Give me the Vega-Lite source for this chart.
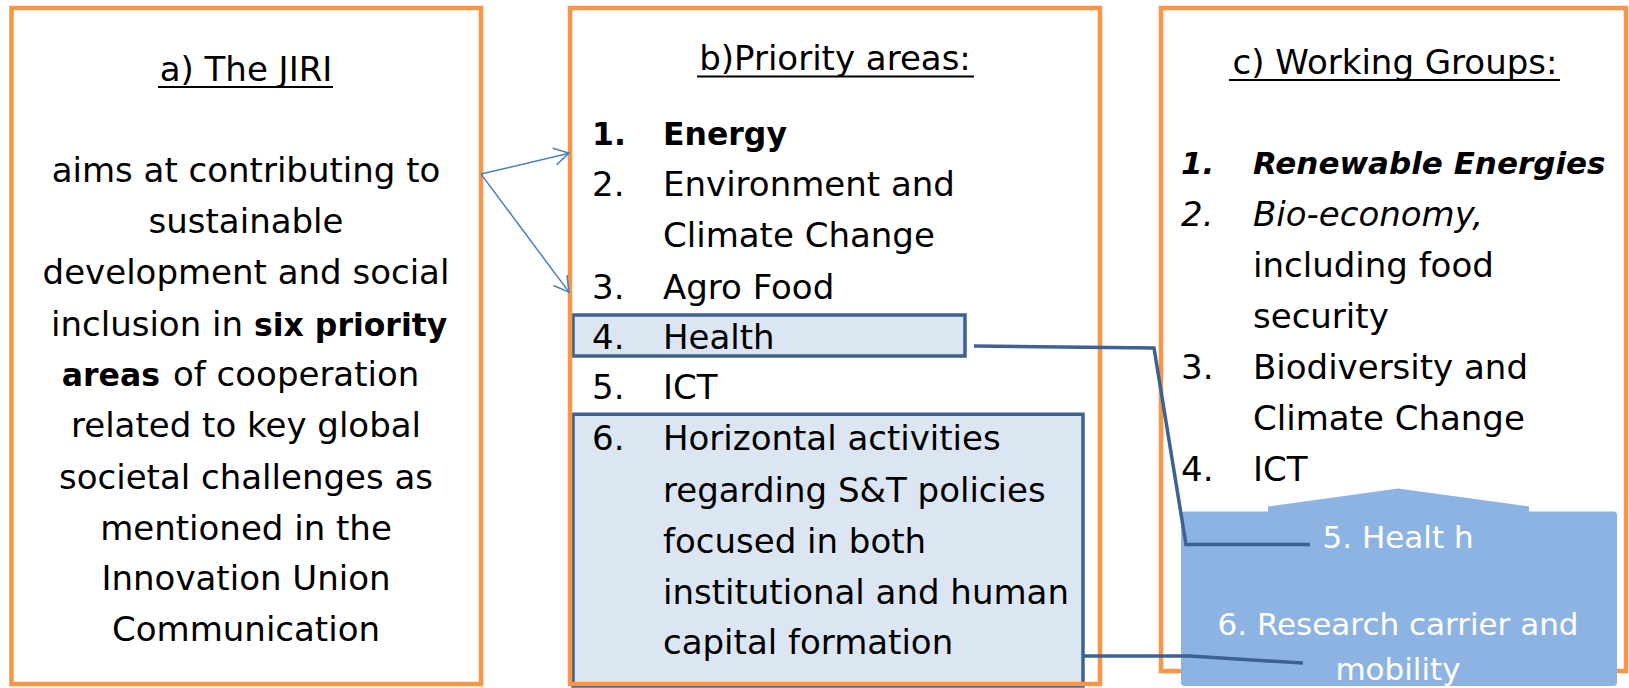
{
  "$schema": "https://vega.github.io/schema/vega-lite/v6.json",
  "width": 1629,
  "height": 688,
  "autosize": {"type": "fit", "contains": "padding"},
  "padding": 0,
  "background": "white",
  "config": {"view": {"stroke": null}},
  "datasets": {
    "highlights": [
      {"id": "health", "x": 573, "x2": 965, "y": 316, "y2": 357},
      {"id": "horizontal", "x": 573, "x2": 1083, "y": 415.5, "y2": 688}
    ],
    "frames": [
      {"id": "a", "x": 11.5, "x2": 481, "y": 8, "y2": 686},
      {"id": "b", "x": 570, "x2": 1100, "y": 8, "y2": 686},
      {"id": "c", "x": 1161, "x2": 1626, "y": 8, "y2": 673}
    ],
    "wgbox": [
      {"id": "body", "x": 1181, "x2": 1617, "y": 513, "y2": 688}
    ],
    "wgtop": [
      {"x": 1268, "y": 508, "y2": 514},
      {"x": 1398, "y": 490, "y2": 514},
      {"x": 1529, "y": 508, "y2": 514}
    ],
    "underlines": [
      {"id": "a", "x": 158, "x2": 333, "y": 87.3},
      {"id": "b", "x": 697, "x2": 974, "y": 76.8},
      {"id": "c", "x": 1229, "x2": 1560, "y": 80.3}
    ],
    "texts": [
      {"s": "c", "x": 246, "y": 81.7, "t": "a) The JIRI"},
      {"s": "c", "x": 246, "y": 183, "t": "aims at contributing to"},
      {"s": "c", "x": 246, "y": 233.5, "t": "sustainable"},
      {"s": "c", "x": 246, "y": 285, "t": "development and social"},
      {"s": "r", "x": 243, "y": 336.5, "t": "inclusion in"},
      {"s": "lb", "x": 254, "y": 336.5, "t": "six priority"},
      {"s": "rb", "x": 160, "y": 387, "t": "areas"},
      {"s": "l", "x": 173, "y": 387, "t": "of cooperation"},
      {"s": "c", "x": 246, "y": 438.5, "t": "related to key global"},
      {"s": "c", "x": 246, "y": 490, "t": "societal challenges as"},
      {"s": "c", "x": 246, "y": 541.5, "t": "mentioned in the"},
      {"s": "c", "x": 246, "y": 592, "t": "Innovation Union"},
      {"s": "c", "x": 246, "y": 643, "t": "Communication"},
      {"s": "c", "x": 835, "y": 70.5, "t": "b)Priority areas:"},
      {"s": "lb", "x": 592, "y": 145, "t": "1."},
      {"s": "lb", "x": 663, "y": 145, "t": "Energy"},
      {"s": "l", "x": 592, "y": 196.7, "t": "2."},
      {"s": "l", "x": 663, "y": 196.7, "t": "Environment and"},
      {"s": "l", "x": 663, "y": 248, "t": "Climate Change"},
      {"s": "l", "x": 592, "y": 299.5, "t": "3."},
      {"s": "l", "x": 663, "y": 299.5, "t": "Agro Food"},
      {"s": "l", "x": 592, "y": 350, "t": "4."},
      {"s": "l", "x": 663, "y": 350, "t": "Health"},
      {"s": "l", "x": 592, "y": 400.5, "t": "5."},
      {"s": "l", "x": 663, "y": 400.5, "t": "ICT"},
      {"s": "l", "x": 592, "y": 451.7, "t": "6."},
      {"s": "l", "x": 663, "y": 451.7, "t": "Horizontal activities"},
      {"s": "l", "x": 663, "y": 503, "t": "regarding S&T policies"},
      {"s": "l", "x": 663, "y": 554.7, "t": "focused in both"},
      {"s": "l", "x": 663, "y": 606, "t": "institutional and human"},
      {"s": "l", "x": 663, "y": 656, "t": "capital formation"},
      {"s": "c", "x": 1395, "y": 74.5, "t": "c) Working Groups:"},
      {"s": "lbi", "x": 1181, "y": 175, "t": "1."},
      {"s": "lbi", "x": 1253, "y": 175, "t": "Renewable Energies"},
      {"s": "li", "x": 1181, "y": 226.5, "t": "2."},
      {"s": "li", "x": 1253, "y": 226.5, "t": "Bio-economy,"},
      {"s": "l", "x": 1253, "y": 278, "t": "including food"},
      {"s": "l", "x": 1253, "y": 329, "t": "security"},
      {"s": "l", "x": 1181, "y": 380, "t": "3."},
      {"s": "l", "x": 1253, "y": 380, "t": "Biodiversity and"},
      {"s": "l", "x": 1253, "y": 431, "t": "Climate Change"},
      {"s": "l", "x": 1181, "y": 482.5, "t": "4."},
      {"s": "l", "x": 1253, "y": 482.5, "t": "ICT"},
      {"s": "w", "x": 1398, "y": 550, "t": "5. Healt h"},
      {"s": "w", "x": 1398, "y": 637, "t": "6. Research carrier and"},
      {"s": "w", "x": 1398, "y": 682, "t": "mobility"}
    ],
    "connectors": [
      {"id": "c1", "o": 1, "x": 974, "y": 347},
      {"id": "c1", "o": 2, "x": 1154, "y": 349},
      {"id": "c1", "o": 3, "x": 1186, "y": 546},
      {"id": "c1", "o": 4, "x": 1310, "y": 546},
      {"id": "c2", "o": 1, "x": 1083, "y": 658},
      {"id": "c2", "o": 2, "x": 1190, "y": 658},
      {"id": "c2", "o": 3, "x": 1303, "y": 665}
    ],
    "arrows": [
      {"id": "a1", "o": 1, "x": 481, "y": 174.6},
      {"id": "a1", "o": 2, "x": 569, "y": 153.6},
      {"id": "h1", "o": 1, "x": 552.7, "y": 148.7},
      {"id": "h1", "o": 2, "x": 569, "y": 153.6},
      {"id": "h1", "o": 3, "x": 556.6, "y": 165.3},
      {"id": "a2", "o": 1, "x": 481, "y": 174.6},
      {"id": "a2", "o": 2, "x": 569, "y": 293},
      {"id": "h2", "o": 1, "x": 567, "y": 276},
      {"id": "h2", "o": 2, "x": 569, "y": 293},
      {"id": "h2", "o": 3, "x": 553.4, "y": 286.3}
    ]
  },
  "layer": [
    {
      "data": {"name": "highlights"},
      "mark": {"type": "rect", "fill": "#DCE6F2", "stroke": "#3D6190", "strokeWidth": 3.5},
      "encoding": {
        "x": {"field": "x", "type": "quantitative", "scale": {"domain": [0, 1629], "nice": false, "zero": false}, "axis": null},
        "x2": {"field": "x2"},
        "y": {"field": "y", "type": "quantitative", "scale": {"domain": [0, 688], "nice": false, "zero": false, "reverse": true}, "axis": null},
        "y2": {"field": "y2"}
      }
    },
    {
      "data": {"name": "frames"},
      "mark": {"type": "rect", "fill": null, "fillOpacity": 0, "stroke": "#F79646", "strokeWidth": 4.5},
      "encoding": {
        "x": {"field": "x", "type": "quantitative"},
        "x2": {"field": "x2"},
        "y": {"field": "y", "type": "quantitative"},
        "y2": {"field": "y2"}
      }
    },
    {
      "data": {"name": "wgbox"},
      "mark": {"type": "rect", "fill": "#8DB3E2", "cornerRadius": 3},
      "encoding": {
        "x": {"field": "x", "type": "quantitative"},
        "x2": {"field": "x2"},
        "y": {"field": "y", "type": "quantitative"},
        "y2": {"field": "y2"}
      }
    },
    {
      "data": {"name": "wgtop"},
      "mark": {"type": "area", "fill": "#8DB3E2", "orient": "vertical"},
      "encoding": {
        "x": {"field": "x", "type": "quantitative"},
        "y": {"field": "y", "type": "quantitative"},
        "y2": {"field": "y2"}
      }
    },
    {
      "data": {"name": "underlines"},
      "mark": {"type": "rule", "stroke": "black", "strokeWidth": 2},
      "encoding": {
        "x": {"field": "x", "type": "quantitative"},
        "x2": {"field": "x2"},
        "y": {"field": "y", "type": "quantitative"}
      }
    },
    {
      "data": {"name": "texts"},
      "transform": [{"filter": "datum.s == 'c'"}],
      "mark": {"type": "text", "align": "center", "baseline": "alphabetic", "font": "DejaVu Sans", "fontSize": 34, "fill": "black"},
      "encoding": {"x": {"field": "x", "type": "quantitative"}, "y": {"field": "y", "type": "quantitative"}, "text": {"field": "t"}}
    },
    {
      "data": {"name": "texts"},
      "transform": [{"filter": "datum.s == 'l'"}],
      "mark": {"type": "text", "align": "left", "baseline": "alphabetic", "font": "DejaVu Sans", "fontSize": 34, "fill": "black"},
      "encoding": {"x": {"field": "x", "type": "quantitative"}, "y": {"field": "y", "type": "quantitative"}, "text": {"field": "t"}}
    },
    {
      "data": {"name": "texts"},
      "transform": [{"filter": "datum.s == 'r'"}],
      "mark": {"type": "text", "align": "right", "baseline": "alphabetic", "font": "DejaVu Sans", "fontSize": 34, "fill": "black"},
      "encoding": {"x": {"field": "x", "type": "quantitative"}, "y": {"field": "y", "type": "quantitative"}, "text": {"field": "t"}}
    },
    {
      "data": {"name": "texts"},
      "transform": [{"filter": "datum.s == 'lb'"}],
      "mark": {"type": "text", "align": "left", "baseline": "alphabetic", "font": "DejaVu Sans", "fontSize": 31.5, "fontWeight": "bold", "fill": "black"},
      "encoding": {"x": {"field": "x", "type": "quantitative"}, "y": {"field": "y", "type": "quantitative"}, "text": {"field": "t"}}
    },
    {
      "data": {"name": "texts"},
      "transform": [{"filter": "datum.s == 'rb'"}],
      "mark": {"type": "text", "align": "right", "baseline": "alphabetic", "font": "DejaVu Sans", "fontSize": 31.5, "fontWeight": "bold", "fill": "black"},
      "encoding": {"x": {"field": "x", "type": "quantitative"}, "y": {"field": "y", "type": "quantitative"}, "text": {"field": "t"}}
    },
    {
      "data": {"name": "texts"},
      "transform": [{"filter": "datum.s == 'li'"}],
      "mark": {"type": "text", "align": "left", "baseline": "alphabetic", "font": "DejaVu Sans", "fontSize": 34, "fontStyle": "italic", "fill": "black"},
      "encoding": {"x": {"field": "x", "type": "quantitative"}, "y": {"field": "y", "type": "quantitative"}, "text": {"field": "t"}}
    },
    {
      "data": {"name": "texts"},
      "transform": [{"filter": "datum.s == 'lbi'"}],
      "mark": {"type": "text", "align": "left", "baseline": "alphabetic", "font": "DejaVu Sans", "fontSize": 31, "fontStyle": "italic", "fontWeight": "bold", "fill": "black"},
      "encoding": {"x": {"field": "x", "type": "quantitative"}, "y": {"field": "y", "type": "quantitative"}, "text": {"field": "t"}}
    },
    {
      "data": {"name": "texts"},
      "transform": [{"filter": "datum.s == 'w'"}],
      "mark": {"type": "text", "align": "center", "baseline": "alphabetic", "font": "DejaVu Sans", "fontSize": 31, "fill": "white"},
      "encoding": {"x": {"field": "x", "type": "quantitative"}, "y": {"field": "y", "type": "quantitative"}, "text": {"field": "t"}}
    },
    {
      "data": {"name": "connectors"},
      "mark": {"type": "line", "stroke": "#3D6190", "strokeWidth": 3.5, "strokeJoin": "miter"},
      "encoding": {
        "x": {"field": "x", "type": "quantitative"},
        "y": {"field": "y", "type": "quantitative"},
        "detail": {"field": "id"},
        "order": {"field": "o"}
      }
    },
    {
      "data": {"name": "arrows"},
      "mark": {"type": "line", "stroke": "#4A7EBB", "strokeWidth": 1.5},
      "encoding": {
        "x": {"field": "x", "type": "quantitative"},
        "y": {"field": "y", "type": "quantitative"},
        "detail": {"field": "id"},
        "order": {"field": "o"}
      }
    }
  ]
}
